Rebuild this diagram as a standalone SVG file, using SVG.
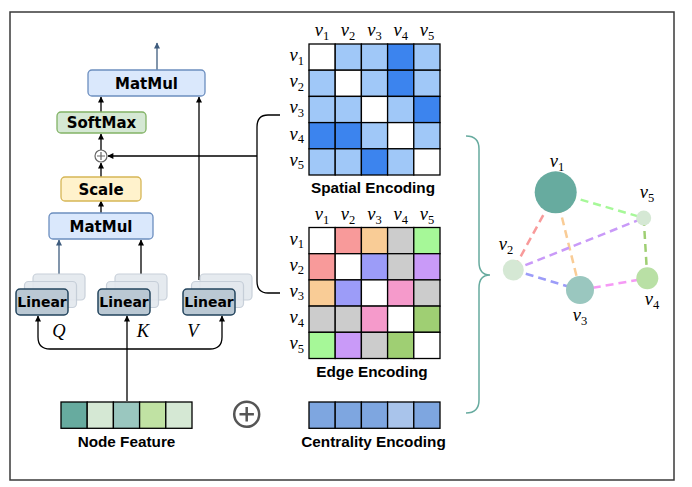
<svg xmlns="http://www.w3.org/2000/svg" width="692" height="487" viewBox="0 0 692 487">
<style>
.box{stroke-width:1.3}
.blk{font-family:"DejaVu Sans",Verdana,sans-serif;font-weight:bold;text-anchor:middle;fill:#000}
.lbl{font-family:"Liberation Sans",Arial,sans-serif;font-weight:bold;font-size:15.3px;text-anchor:middle;fill:#000}
.v{font-family:"Liberation Serif","Times New Roman",serif;font-style:italic;font-size:18.5px;fill:#000}
.vr{text-anchor:end}
.vc{text-anchor:middle}
.sub{font-size:12.5px;font-style:normal}
.ln{fill:none;stroke:#000;stroke-width:1.3}
.lnb{fill:none;stroke:#3e5c7e;stroke-width:1.3}
.cell{stroke:#000;stroke-width:1.3}
.e{stroke-width:2.5;stroke-dasharray:8 5;fill:none}
.back{fill:#e3e8ee;stroke:#c3ccd6;stroke-width:1.2;opacity:0.9}
.front{fill:#bac8d3;stroke:#23445d;stroke-width:1.5}
</style>
<defs>
<marker id="ak" viewBox="0 0 10 10" refX="9" refY="5" markerUnits="userSpaceOnUse" markerWidth="7" markerHeight="6" orient="auto-start-reverse"><path d="M0,0 L10,5 L0,10 z" fill="#000"/></marker>
<marker id="ab" viewBox="0 0 10 10" refX="9" refY="5" markerUnits="userSpaceOnUse" markerWidth="7" markerHeight="6" orient="auto-start-reverse"><path d="M0,0 L10,5 L0,10 z" fill="#3e5c7e"/></marker>
</defs>
<rect x="0" y="0" width="692" height="487" fill="#fff"/>
<rect x="10" y="12" width="664" height="468" fill="#fff" stroke="#3a3a3a" stroke-width="1.5"/>

<g id="connectors">
<path class="lnb" d="M157,70 L157,43" marker-end="url(#ab)"/>
<path class="ln" d="M101,112 L101,97" marker-end="url(#ak)"/>
<path class="ln" d="M101,150 L101,134" marker-end="url(#ak)"/>
<path class="ln" d="M101,177 L101,163" marker-end="url(#ak)"/>
<path class="ln" d="M101,213 L101,201" marker-end="url(#ak)"/>
<path class="ln" d="M199,280 L199,97" marker-end="url(#ak)"/>
<path class="lnb" d="M59,274 L59,240" marker-end="url(#ab)"/>
<path class="ln" d="M141,274 L141,240" marker-end="url(#ak)"/>
<path class="ln" d="M257,156 L108,156" marker-end="url(#ak)"/>
<path class="ln" d="M280,115 L268,115 Q257,115 257,127 L257,281 Q257,293 268,293 L280,293"/>
<path class="ln" d="M127,401 L127,316" marker-end="url(#ak)"/>
<path class="ln" d="M38,316 L38,337 Q38,349 50,349 L210,349 Q222,349 222,337 L222,316" marker-start="url(#ak)" marker-end="url(#ak)"/>
<path d="M466,136 Q479,136 479,149 L479,262 Q479,275 490,275 Q479,275 479,288 L479,400 Q479,413 466,413" fill="none" stroke="#67ab9f" stroke-width="1.5"/>
</g>

<g id="matmul-top"><rect class="box" x="88" y="70" width="117" height="26" rx="4" fill="#dae8fc" stroke="#6c8ebf"/><text class="blk" x="146.5" y="88.5" font-size="15">MatMul</text></g>
<g id="softmax"><rect class="box" x="57" y="112" width="89" height="21" rx="4" fill="#d5e8d4" stroke="#82b366"/><text class="blk" x="101.5" y="128" font-size="15">SoftMax</text></g>
<g id="add-small"><circle cx="101" cy="156" r="6" fill="#fff" stroke="#666" stroke-width="1.2"/><path d="M97,156 L105,156 M101,152 L101,160" stroke="#666" stroke-width="1.2"/></g>
<g id="scale"><rect class="box" x="61" y="177" width="80" height="24" rx="4" fill="#fff2cc" stroke="#d6b656"/><text class="blk" x="101" y="194.5" font-size="15">Scale</text></g>
<g id="matmul-low"><rect class="box" x="49" y="213" width="104" height="26" rx="4" fill="#dae8fc" stroke="#6c8ebf"/><text class="blk" x="101" y="231.5" font-size="15">MatMul</text></g>

<g id="linear-q">
<rect class="back" x="33" y="274" width="52" height="26" rx="4"/>
<rect class="back" x="24.5" y="281.5" width="52" height="26" rx="4"/>
<rect class="front" x="16" y="289" width="52" height="26" rx="4"/>
<text class="blk" x="42" y="307" font-size="14">Linear</text>
</g>
<g id="linear-k">
<rect class="back" x="115" y="274" width="52" height="26" rx="4"/>
<rect class="back" x="106.5" y="281.5" width="52" height="26" rx="4"/>
<rect class="front" x="98" y="289" width="52" height="26" rx="4"/>
<text class="blk" x="124" y="307" font-size="14">Linear</text>
</g>
<g id="linear-v">
<rect class="back" x="200" y="274" width="52" height="26" rx="4"/>
<rect class="back" x="191.5" y="281.5" width="52" height="26" rx="4"/>
<rect class="front" x="183" y="289" width="52" height="26" rx="4"/>
<text class="blk" x="209" y="307" font-size="14">Linear</text>
</g>
<g id="qkv-labels">
<text class="v vc" x="59" y="337">Q</text>
<text class="v vc" x="143" y="337">K</text>
<text class="v vc" x="193" y="337">V</text>
</g>

<g id="node-feature">
<rect class="cell" x="61" y="402" width="26.2" height="26.3" fill="#67ab9f"/>
<rect class="cell" x="87.2" y="402" width="26.2" height="26.3" fill="#d5e8d4"/>
<rect class="cell" x="113.4" y="402" width="26.2" height="26.3" fill="#9ac7bf"/>
<rect class="cell" x="139.6" y="402" width="26.2" height="26.3" fill="#c0e2a3"/>
<rect class="cell" x="165.8" y="402" width="26.2" height="26.3" fill="#d5e8d4"/>
<text class="lbl" x="126.5" y="447">Node Feature</text>
</g>
<g id="add-big"><circle cx="246.7" cy="414.3" r="12.5" fill="#fff" stroke="#555" stroke-width="2.5"/><path d="M239.5,414.3 L253.9,414.3 M246.7,407.1 L246.7,421.5" stroke="#555" stroke-width="2.5"/></g>
<g id="centrality">
<rect class="cell" x="309" y="402" width="26.2" height="26.3" fill="#7ea6e0"/>
<rect class="cell" x="335.2" y="402" width="26.2" height="26.3" fill="#7ea6e0"/>
<rect class="cell" x="361.4" y="402" width="26.2" height="26.3" fill="#7ea6e0"/>
<rect class="cell" x="387.6" y="402" width="26.2" height="26.3" fill="#a9c4eb"/>
<rect class="cell" x="413.8" y="402" width="26.2" height="26.3" fill="#7ea6e0"/>
<text class="lbl" x="373.5" y="447">Centrality Encoding</text>
</g>

<g id="spatial-encoding">
<g class="cell">
<rect x="309" y="44" width="26.2" height="26.2" fill="#fff"/><rect x="335.2" y="44" width="26.2" height="26.2" fill="#a0c8f8"/><rect x="361.4" y="44" width="26.2" height="26.2" fill="#a0c8f8"/><rect x="387.6" y="44" width="26.2" height="26.2" fill="#3c84ee"/><rect x="413.8" y="44" width="26.2" height="26.2" fill="#a0c8f8"/>
<rect x="309" y="70.2" width="26.2" height="26.2" fill="#a0c8f8"/><rect x="335.2" y="70.2" width="26.2" height="26.2" fill="#fff"/><rect x="361.4" y="70.2" width="26.2" height="26.2" fill="#a0c8f8"/><rect x="387.6" y="70.2" width="26.2" height="26.2" fill="#3c84ee"/><rect x="413.8" y="70.2" width="26.2" height="26.2" fill="#a0c8f8"/>
<rect x="309" y="96.4" width="26.2" height="26.2" fill="#a0c8f8"/><rect x="335.2" y="96.4" width="26.2" height="26.2" fill="#a0c8f8"/><rect x="361.4" y="96.4" width="26.2" height="26.2" fill="#fff"/><rect x="387.6" y="96.4" width="26.2" height="26.2" fill="#a0c8f8"/><rect x="413.8" y="96.4" width="26.2" height="26.2" fill="#3c84ee"/>
<rect x="309" y="122.6" width="26.2" height="26.2" fill="#3c84ee"/><rect x="335.2" y="122.6" width="26.2" height="26.2" fill="#3c84ee"/><rect x="361.4" y="122.6" width="26.2" height="26.2" fill="#a0c8f8"/><rect x="387.6" y="122.6" width="26.2" height="26.2" fill="#fff"/><rect x="413.8" y="122.6" width="26.2" height="26.2" fill="#a0c8f8"/>
<rect x="309" y="148.8" width="26.2" height="26.2" fill="#a0c8f8"/><rect x="335.2" y="148.8" width="26.2" height="26.2" fill="#a0c8f8"/><rect x="361.4" y="148.8" width="26.2" height="26.2" fill="#3c84ee"/><rect x="387.6" y="148.8" width="26.2" height="26.2" fill="#a0c8f8"/><rect x="413.8" y="148.8" width="26.2" height="26.2" fill="#fff"/>
</g>
<text class="v vc" x="322" y="36">v<tspan class="sub" dy="3.5">1</tspan></text>
<text class="v vc" x="348" y="36">v<tspan class="sub" dy="3.5">2</tspan></text>
<text class="v vc" x="374.5" y="36">v<tspan class="sub" dy="3.5">3</tspan></text>
<text class="v vc" x="400.7" y="36">v<tspan class="sub" dy="3.5">4</tspan></text>
<text class="v vc" x="427" y="36">v<tspan class="sub" dy="3.5">5</tspan></text>
<text class="v vr" x="304" y="61">v<tspan class="sub" dy="3.5">1</tspan></text>
<text class="v vr" x="304" y="87">v<tspan class="sub" dy="3.5">2</tspan></text>
<text class="v vr" x="304" y="113">v<tspan class="sub" dy="3.5">3</tspan></text>
<text class="v vr" x="304" y="139.5">v<tspan class="sub" dy="3.5">4</tspan></text>
<text class="v vr" x="304" y="165.5">v<tspan class="sub" dy="3.5">5</tspan></text>
<text class="lbl" x="373" y="193">Spatial Encoding</text>
</g>

<g id="edge-encoding">
<g class="cell">
<rect x="309" y="227.5" width="26.2" height="26.2" fill="#fff"/><rect x="335.2" y="227.5" width="26.2" height="26.2" fill="#f89a9a"/><rect x="361.4" y="227.5" width="26.2" height="26.2" fill="#f9cc96"/><rect x="387.6" y="227.5" width="26.2" height="26.2" fill="#cccccc"/><rect x="413.8" y="227.5" width="26.2" height="26.2" fill="#a6f898"/>
<rect x="309" y="253.7" width="26.2" height="26.2" fill="#f89a9a"/><rect x="335.2" y="253.7" width="26.2" height="26.2" fill="#fff"/><rect x="361.4" y="253.7" width="26.2" height="26.2" fill="#9c9cf8"/><rect x="387.6" y="253.7" width="26.2" height="26.2" fill="#cccccc"/><rect x="413.8" y="253.7" width="26.2" height="26.2" fill="#c99af8"/>
<rect x="309" y="279.9" width="26.2" height="26.2" fill="#f9cc96"/><rect x="335.2" y="279.9" width="26.2" height="26.2" fill="#9c9cf8"/><rect x="361.4" y="279.9" width="26.2" height="26.2" fill="#fff"/><rect x="387.6" y="279.9" width="26.2" height="26.2" fill="#f59acb"/><rect x="413.8" y="279.9" width="26.2" height="26.2" fill="#cccccc"/>
<rect x="309" y="306.1" width="26.2" height="26.2" fill="#cccccc"/><rect x="335.2" y="306.1" width="26.2" height="26.2" fill="#cccccc"/><rect x="361.4" y="306.1" width="26.2" height="26.2" fill="#f59acb"/><rect x="387.6" y="306.1" width="26.2" height="26.2" fill="#fff"/><rect x="413.8" y="306.1" width="26.2" height="26.2" fill="#9fcf73"/>
<rect x="309" y="332.3" width="26.2" height="26.2" fill="#a6f898"/><rect x="335.2" y="332.3" width="26.2" height="26.2" fill="#c99af8"/><rect x="361.4" y="332.3" width="26.2" height="26.2" fill="#cccccc"/><rect x="387.6" y="332.3" width="26.2" height="26.2" fill="#9fcf73"/><rect x="413.8" y="332.3" width="26.2" height="26.2" fill="#fff"/>
</g>
<text class="v vc" x="322" y="220">v<tspan class="sub" dy="3.5">1</tspan></text>
<text class="v vc" x="348" y="220">v<tspan class="sub" dy="3.5">2</tspan></text>
<text class="v vc" x="374.5" y="220">v<tspan class="sub" dy="3.5">3</tspan></text>
<text class="v vc" x="400.7" y="220">v<tspan class="sub" dy="3.5">4</tspan></text>
<text class="v vc" x="427" y="220">v<tspan class="sub" dy="3.5">5</tspan></text>
<text class="v vr" x="304" y="244.5">v<tspan class="sub" dy="3.5">1</tspan></text>
<text class="v vr" x="304" y="270.5">v<tspan class="sub" dy="3.5">2</tspan></text>
<text class="v vr" x="304" y="296.5">v<tspan class="sub" dy="3.5">3</tspan></text>
<text class="v vr" x="304" y="323">v<tspan class="sub" dy="3.5">4</tspan></text>
<text class="v vr" x="304" y="349">v<tspan class="sub" dy="3.5">5</tspan></text>
<text class="lbl" x="372" y="377">Edge Encoding</text>
</g>

<g id="graph-edges">
<line class="e" x1="555.7" y1="192.3" x2="513.3" y2="270" stroke="#f89a9a"/>
<line class="e" x1="555.7" y1="192.3" x2="580" y2="290" stroke="#f9cc96"/>
<line class="e" x1="555.7" y1="192.3" x2="643.7" y2="218" stroke="#a6f898"/>
<line class="e" x1="513.3" y1="270" x2="643.7" y2="218" stroke="#c99af8"/>
<line class="e" x1="513.3" y1="270" x2="580" y2="290" stroke="#9c9cf8"/>
<line class="e" x1="580" y1="290" x2="647.3" y2="278.3" stroke="#f59af5"/>
<line class="e" x1="643.7" y1="218" x2="647.3" y2="278.3" stroke="#9fcf73"/>
</g>
<g id="node-v1"><circle cx="555.7" cy="192.3" r="21" fill="#67ab9f"/><text class="v vc" x="557" y="167">v<tspan class="sub" dy="3.5">1</tspan></text></g>
<g id="node-v2"><circle cx="513.3" cy="270" r="10.5" fill="#d5e8d4"/><text class="v vc" x="506" y="250">v<tspan class="sub" dy="3.5">2</tspan></text></g>
<g id="node-v3"><circle cx="580" cy="290" r="14" fill="#9ac7bf"/><text class="v vc" x="580" y="321">v<tspan class="sub" dy="3.5">3</tspan></text></g>
<g id="node-v4"><circle cx="647.3" cy="278.3" r="11" fill="#b9e0a5"/><text class="v vc" x="652" y="305">v<tspan class="sub" dy="3.5">4</tspan></text></g>
<g id="node-v5"><circle cx="643.7" cy="218" r="7.5" fill="#d5e8d4"/><text class="v vc" x="647" y="198">v<tspan class="sub" dy="3.5">5</tspan></text></g>
</svg>
